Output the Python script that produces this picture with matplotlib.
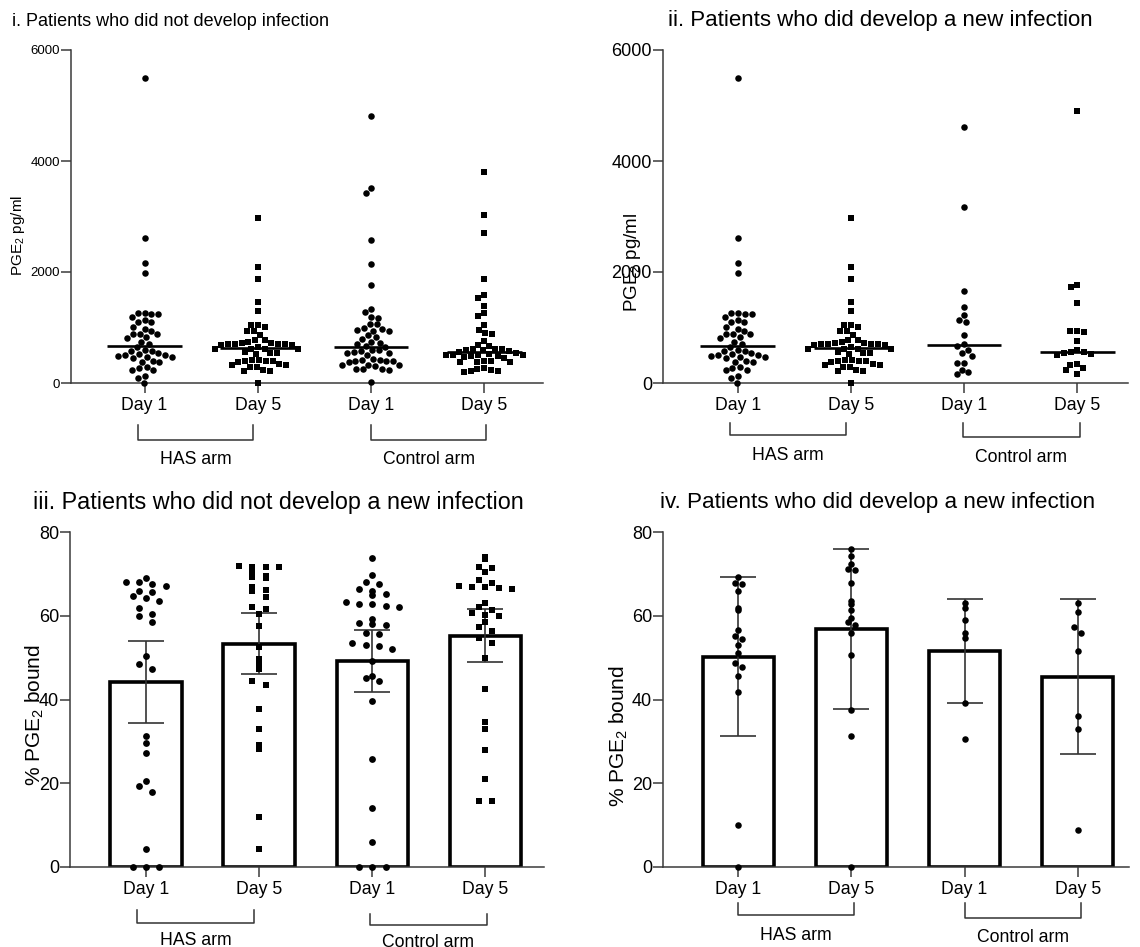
import numpy as np
import matplotlib
matplotlib.use('Agg')
import matplotlib.pyplot as plt
from matplotlib.transforms import blended_transform_factory

plt.rcParams['font.family'] = ['Liberation Sans', 'DejaVu Sans']
plt.rcParams['mathtext.fontset'] = 'custom'
plt.rcParams['mathtext.rm'] = 'Liberation Sans'
plt.rcParams['mathtext.it'] = 'Liberation Sans:italic'
plt.rcParams['mathtext.bf'] = 'Liberation Sans:bold'

categories = ['Day 1', 'Day 5', 'Day 1', 'Day 5']
groups = ['HAS arm', 'Control arm']

titles = ['i. Patients who did not develop infection',
          'ii. Patients who did develop a new infection',
          'iii. Patients who did not develop a new infection',
          'iv. Patients who did develop a new infection']
ylabel_conc = r'PGE$_\mathregular{2}$ pg/ml'
ylabel_bound = r'% PGE$_\mathregular{2}$ bound'

# ---- Panel i : PGE2 pg/ml, no infection ----
p1_has_d1 = [5500, 2620, 2170, 1980, 1270, 1245, 1245, 1185, 1265, 1135, 1095, 1095,
             1015, 945, 980, 880, 880, 815, 875, 820, 700, 745, 645, 475, 505, 535,
             575, 580, 505, 595, 475, 520, 480, 380, 445, 405, 380, 295, 235, 235,
             265, 125, 85, 0]
p1_has_d5 = [2980, 2085, 1870, 1455, 1300, 1045, 1015, 1045, 935, 940, 865, 775, 725,
             700, 700, 690, 690, 700, 720, 745, 770, 705, 620, 620, 610, 620, 640, 540,
             520, 540, 560, 410, 410, 390, 400, 400, 380, 330, 340, 330, 290, 290, 230,
             220, 210, 0]
p1_ctl_d1 = [4810, 3520, 3430, 2570, 2140, 1760, 1340, 1285, 1185, 1180, 1055, 1060,
             990, 960, 945, 945, 965, 860, 835, 800, 745, 725, 700, 665, 650, 590, 575,
             600, 560, 540, 545, 505, 430, 420, 400, 410, 400, 390, 370, 320, 330, 260,
             240, 250, 245, 300, 325, 25]
p1_ctl_d5 = [3800, 3020, 2700, 1870, 1585, 1525, 1395, 1255, 1205, 1045, 955, 895, 885,
             755, 685, 665, 605, 595, 595, 610, 605, 505, 470, 500, 510, 520, 500, 540,
             480, 560, 575, 450, 490, 400, 390, 380, 370, 370, 270, 230, 210, 190, 210,
             250]

# ---- Panel ii : PGE2 pg/ml, new infection ----
p2_has_d1 = list(p1_has_d1)
p2_has_d5 = list(p1_has_d5)
p2_ctl_d1 = [4620, 3165, 1665, 1375, 1225, 1105, 1135, 865, 695, 675, 595, 535, 485,
             355, 355, 235, 155, 190]
p2_ctl_d5 = [4900, 1760, 1725, 1435, 930, 930, 915, 750, 600, 560, 540, 530, 500, 560,
             340, 330, 270, 230, 170]

# ---- Panel iii : % PGE2 bound, no new infection ----
p3_has_d1 = [69.1, 68.1, 68.1, 67.7, 67.2, 66.0, 65.6, 64.8, 64.3, 63.6, 61.8, 60.4,
             60.0, 58.6, 50.5, 48.4, 47.3, 31.3, 29.7, 27.1, 20.6, 19.4, 17.9, 4.2,
             0, 0, 0]
p3_has_d5 = [72.0, 71.8, 71.8, 71.8, 70.6, 69.6, 69.2, 69.0, 67.0, 66.2, 65.9, 64.6,
             62.2, 61.6, 60.4, 57.7, 52.6, 49.8, 48.4, 47.2, 44.4, 43.4, 37.7, 33.0,
             29.0, 28.1, 12.0, 4.2]
p3_ctl_d1 = [73.9, 69.7, 68.2, 67.7, 66.4, 66.0, 65.2, 65.0, 63.4, 62.8, 62.8, 62.4,
             62.1, 59.3, 58.4, 58.1, 57.8, 56.0, 55.7, 53.6, 53.0, 52.9, 52.2, 49.2,
             45.7, 45.1, 44.4, 39.7, 25.8, 14.1, 6.0, 0, 0, 0]
p3_ctl_d5 = [74.2, 73.6, 71.8, 71.4, 70.6, 68.6, 67.8, 67.2, 66.8, 66.8, 66.6, 66.4,
             63.0, 62.1, 61.4, 60.6, 60.1, 60.0, 58.6, 57.4, 56.5, 54.6, 53.4, 49.9,
             42.4, 34.7, 32.9, 27.9, 21.1, 15.7, 15.6]
p3_mean = [44.2, 53.3, 49.2, 55.3]
p3_err = [9.8, 7.3, 7.4, 6.4]

# ---- Panel iv : % PGE2 bound, new infection ----
p4_has_d1 = [69.2, 67.8, 67.6, 66.0, 62.0, 61.4, 56.6, 55.3, 54.5, 53.1, 51.2, 48.8,
             47.7, 45.7, 41.9, 10.0, 0]
p4_has_d5 = [76.0, 74.3, 72.4, 71.2, 71.1, 67.8, 63.6, 62.8, 61.4, 59.6, 58.5, 57.8,
             55.8, 50.6, 37.5, 31.3, 0]
p4_ctl_d1 = [63.2, 61.8, 59.0, 55.8, 54.7, 39.2, 30.5]
p4_ctl_d5 = [63.2, 60.9, 57.3, 56.0, 51.5, 36.1, 32.9, 8.8]
p4_mean = [50.2, 56.8, 51.6, 45.5]
p4_err = [19.0, 19.1, 12.4, 18.6]

W, H = 1140, 947
AX_COLOR = '#3a3a3a'
FS_TICK = 12.7


def _pix(ax, xc, vals):
    pts = ax.transData.transform(np.column_stack([np.full(len(vals), xc), vals]))
    return pts[0, 0], pts[:, 1]


def _back(ax, x0, off, ypix):
    return ax.transData.inverted().transform(np.column_stack([x0 + off, ypix]))[:, 0]


def swarm_x(ax, xc, values, dpx):
    """Circle-collision beeswarm in pixel space."""
    vals = np.asarray(values, dtype=float)
    x0, ypix = _pix(ax, xc, vals)
    order = np.argsort(-vals, kind='stable')
    px, py = [], []
    off = np.zeros(len(vals))
    for i in order:
        y = ypix[i]
        cands = [0.0]
        for a, b in zip(px, py):
            dy = abs(y - b)
            if dy < dpx:
                dx = np.sqrt(dpx ** 2 - dy ** 2)
                cands += [a + dx, a - dx]
        cands = sorted(cands, key=lambda c: (round(abs(c), 6), c))
        chosen = cands[-1]
        for c in cands:
            if all((c - a) ** 2 + (y - b) ** 2 >= dpx ** 2 - 1e-6 for a, b in zip(px, py)):
                chosen = c
                break
        off[i] = chosen
        px.append(chosen)
        py.append(y)
    return _back(ax, x0, off, ypix)


def row_swarm_x(ax, xc, values, dx, dy):
    """Prism-like scatter: points binned into rows of height dy (pixels),
    each row spread symmetrically around the column centre with spacing dx."""
    vals = np.asarray(values, dtype=float)
    x0, ypix = _pix(ax, xc, vals)
    base = ypix.min()
    bins = np.floor((ypix - base) / dy + 1e-9).astype(int)
    off = np.zeros(len(vals))
    for b in np.unique(bins):
        idx = np.where(bins == b)[0]
        n = len(idx)
        for k, i in enumerate(idx):
            off[i] = (k - (n - 1) / 2.0) * dx
    return _back(ax, x0, off, ypix)


def make_axes(left, bottom_px, height_px, xlim):
    width_px = (xlim[1] - xlim[0]) * 113.2
    ax = fig.add_axes([left / W, 1 - bottom_px / H, width_px / W, height_px / H])
    ax.set_xlim(*xlim)
    return ax


def style_axes(ax, ylim, yticks, ytick_fs):
    ax.set_ylim(*ylim)
    ax.set_yticks(yticks)
    ax.set_xticks(range(4))
    ax.set_xticklabels(categories, fontsize=FS_TICK)
    for s in ['top', 'right']:
        ax.spines[s].set_visible(False)
    for s in ['left', 'bottom']:
        ax.spines[s].set_color(AX_COLOR)
        ax.spines[s].set_linewidth(1.1)
    ax.tick_params(direction='out', length=7, width=1.1, color=AX_COLOR)
    ax.tick_params(axis='x', pad=3)
    ax.tick_params(axis='y', pad=1, labelsize=ytick_fs)
    ax.patch.set_alpha(0)


def bracket(ax, x0, x1, ytop, ybot, ylab, text):
    tr = blended_transform_factory(ax.transData, ax.transAxes)
    ax.plot([x0, x0, x1, x1], [ytop, ybot, ybot, ytop], transform=tr, clip_on=False,
            color='#333333', lw=1.1)
    ax.text((x0 + x1) / 2, ylab, text, transform=tr, ha='center', va='baseline',
            fontsize=FS_TICK, clip_on=False)


def scatter_panel(ax, series, dpx, size):
    markers = ['o', 's', 'o', 's']
    for i, (vals, m) in enumerate(zip(series, markers)):
        xs = swarm_x(ax, i, vals, dpx)
        ax.scatter(xs, vals, marker=m, s=size, color='black', linewidths=0, zorder=3,
                   clip_on=False)
        ax.hlines(np.median(vals), i - 0.33, i + 0.33, color='black', lw=1.9, zorder=4)


def bar_panel(ax, series, means, errs, dx, dy, size, markers):
    ax.bar(range(4), means, width=0.63, color='white', edgecolor='black',
           linewidth=2.6, zorder=1)
    ax.errorbar(range(4), means, yerr=errs, fmt='none', ecolor='#333333',
                elinewidth=1.2, capsize=13.3, capthick=1.2, zorder=2)
    for i, (vals, m) in enumerate(zip(series, markers)):
        xs = row_swarm_x(ax, i, vals, dx, dy)
        ax.scatter(xs, vals, marker=m, s=size, color='black', linewidths=0, zorder=3,
                   clip_on=False)


fig = plt.figure(figsize=(W / 100, H / 100), dpi=100)

# Panel i
ax1 = make_axes(71, 383, 333, (-0.65, 3.52))
style_axes(ax1, (0, 6000), [0, 2000, 4000, 6000], 9.5)
scatter_panel(ax1, [p1_has_d1, p1_has_d5, p1_ctl_d1, p1_ctl_d5], 7.0, 22)
bracket(ax1, -0.06, 0.96, -0.126, -0.171, -0.244, groups[0])
bracket(ax1, 2.0, 3.02, -0.126, -0.171, -0.242, groups[1])

# Panel ii
ax2 = make_axes(663, 383, 333, (-0.66, 3.45))
style_axes(ax2, (0, 6000), [0, 2000, 4000, 6000], 13)
scatter_panel(ax2, [p2_has_d1, p2_has_d5, p2_ctl_d1, p2_ctl_d5], 7.0, 22)
bracket(ax2, -0.066, 0.96, -0.12, -0.155, -0.230, groups[0])
bracket(ax2, 1.99, 3.02, -0.12, -0.162, -0.237, groups[1])

# Panel iii
ax3 = make_axes(70, 866.7, 334.4, (-0.67, 3.52))
style_axes(ax3, (0, 80), [0, 20, 40, 60, 80], 13)
bar_panel(ax3, [p3_has_d1, p3_has_d5, p3_ctl_d1, p3_ctl_d5], p3_mean, p3_err,
          13.3, 6.8, 24, ['o', 's', 'o', 's'])
bracket(ax3, -0.075, 0.955, -0.129, -0.168, -0.235, groups[0])
bracket(ax3, 1.98, 3.01, -0.141, -0.174, -0.240, groups[1])

# Panel iv
ax4 = make_axes(663, 866.7, 334.4, (-0.664, 3.45))
style_axes(ax4, (0, 80), [0, 20, 40, 60, 80], 13)
bar_panel(ax4, [p4_has_d1, p4_has_d5, p4_ctl_d1, p4_ctl_d5], p4_mean, p4_err,
          6.7, 6.8, 22, ['o', 'o', 'o', 'o'])
bracket(ax4, 0.0, 1.02, -0.109, -0.145, -0.218, groups[0])
bracket(ax4, 2.0, 3.03, -0.109, -0.153, -0.226, groups[1])

# Titles
fig.text(12 / W, 1 - 26 / H, titles[0], fontsize=13, va='baseline', ha='left')
fig.text(668 / W, 1 - 26 / H, titles[1], fontsize=16, va='baseline', ha='left')
fig.text(33 / W, 1 - 509 / H, titles[2], fontsize=16.8, va='baseline', ha='left')
fig.text(660 / W, 1 - 508 / H, titles[3], fontsize=16.2, va='baseline', ha='left')

# Y labels
fig.text(18 / W, 1 - 235 / H, ylabel_conc, rotation=90, fontsize=11, ha='center', va='center')
fig.text(633 / W, 1 - 262 / H, ylabel_conc, rotation=90, fontsize=13.5, ha='center', va='center')
fig.text(35 / W, 1 - 715 / H, ylabel_bound, rotation=90, fontsize=15, ha='center', va='center')
fig.text(619 / W, 1 - 736 / H, ylabel_bound, rotation=90, fontsize=15, ha='center', va='center')

fig.savefig('out.png', dpi=100)
